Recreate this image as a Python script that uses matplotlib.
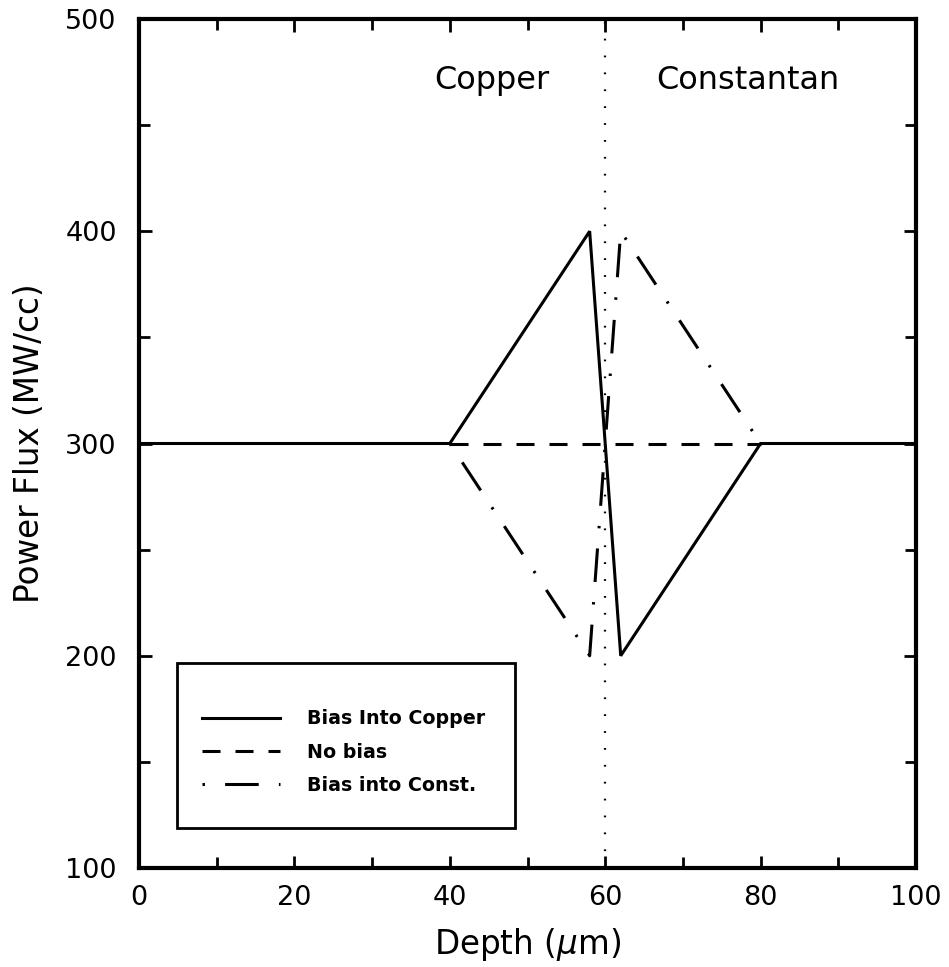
import matplotlib
matplotlib.use("Agg")
import matplotlib.pyplot as plt
from matplotlib.patches import Rectangle
from matplotlib.ticker import MultipleLocator

# Data
depth_copper = [0, 40, 58, 62, 80, 100]
flux_copper = [300, 300, 400, 200, 300, 300]
depth_nobias = [40, 80]
flux_nobias = [300, 300]
depth_const = [40, 58, 62, 80]
flux_const = [300, 200, 400, 300]
interface_x = 60
labels = ["Bias Into Copper", "No bias", "Bias into Const."]
region_labels = ["Copper", "Constantan"]

plt.rcParams['font.family'] = ['DejaVu Sans']

fig = plt.figure(figsize=(9.49, 9.67), dpi=100)
ax = fig.add_axes([139/949, 1 - 868/967, 777/949, 849/967])

lw = 2.2
l1, = ax.plot(depth_copper, flux_copper, color='black', lw=lw, solid_joinstyle='miter')
l2, = ax.plot(depth_nobias, flux_nobias, color='black', lw=lw, linestyle=(0, (5.9, 4.9)))
l3, = ax.plot(depth_const, flux_const, color='black', lw=lw,
              linestyle=(0, (0.8, 6.6, 11, 6.6)))
ax.axvline(interface_x, color='black', lw=1.6, linestyle=(0, (0.8, 6.8)))

ax.set_xlim(0, 100)
ax.set_ylim(100, 500)
ax.xaxis.set_major_locator(MultipleLocator(20))
ax.xaxis.set_minor_locator(MultipleLocator(10))
ax.yaxis.set_major_locator(MultipleLocator(100))
ax.yaxis.set_minor_locator(MultipleLocator(50))
ax.tick_params(which='both', direction='in', top=True, right=True, width=2)
ax.tick_params(which='major', length=9, labelsize=19.5)
ax.tick_params(axis='x', which='major', pad=12)
ax.tick_params(axis='y', which='major', pad=16)
ax.tick_params(which='minor', length=8)
for s in ax.spines.values():
    s.set_linewidth(3)

ax.set_xlabel("Depth ($\\mu$m)", fontsize=23.5, labelpad=11)
ax.set_ylabel("Power Flux (MW/cc)", fontsize=23.5, labelpad=14)

ax.text(45.4, 471, region_labels[0], fontsize=23, ha='center', va='center')
ax.text(78.4, 471, region_labels[1], fontsize=23, ha='center', va='center')

# legend box
ax.add_patch(Rectangle(((177-139)/777, (868-828)/849), (515-177)/777, (828-663)/849,
                       transform=ax.transAxes, fill=False, edgecolor='black', lw=2, zorder=5))
leg = ax.legend([l1, l2, l3], labels, loc='center left',
                bbox_to_anchor=((202-139)/777, (868-752)/849),
                frameon=False, handlelength=4.1, handletextpad=1.4, borderpad=0,
                borderaxespad=0, labelspacing=0.75,
                prop={'weight': 'bold', 'size': 13.7})

fig.savefig("out.png", dpi=100)
